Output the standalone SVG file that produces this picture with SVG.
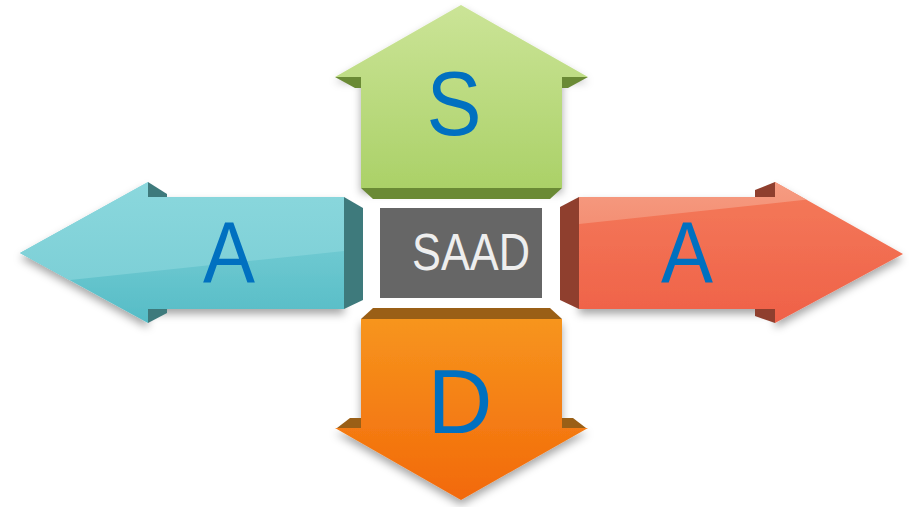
<svg xmlns="http://www.w3.org/2000/svg" width="909" height="507" viewBox="0 0 909 507">
  <defs>
    <linearGradient id="gGreen" x1="0" y1="0" x2="0" y2="1">
      <stop offset="0" stop-color="#cbe497"/>
      <stop offset="1" stop-color="#abd168"/>
    </linearGradient>
    <linearGradient id="gOrange" x1="0" y1="0" x2="0" y2="1">
      <stop offset="0" stop-color="#f7951e"/>
      <stop offset="1" stop-color="#f2690a"/>
    </linearGradient>
    <linearGradient id="gTeal" x1="0" y1="0" x2="0" y2="1">
      <stop offset="0" stop-color="#86d5db"/>
      <stop offset="1" stop-color="#55bcc6"/>
    </linearGradient>
    <linearGradient id="gTealHi" x1="0" y1="0" x2="0" y2="1">
      <stop offset="0" stop-color="#8fdadf"/>
      <stop offset="1" stop-color="#7ccfd6"/>
    </linearGradient>
    <linearGradient id="gRed" x1="0" y1="0" x2="0" y2="1">
      <stop offset="0" stop-color="#f47a5a"/>
      <stop offset="1" stop-color="#ef6148"/>
    </linearGradient>
    <linearGradient id="gRedHi" x1="0" y1="0" x2="0" y2="1">
      <stop offset="0" stop-color="#f7a68c"/>
      <stop offset="1" stop-color="#f48f74"/>
    </linearGradient>
    <filter id="shadow" x="-20%" y="-20%" width="140%" height="150%">
      <feDropShadow dx="0" dy="5" stdDeviation="4" flood-color="#000" flood-opacity="0.35"/>
    </filter>
    <clipPath id="clipTeal">
      <polygon points="20,253 148,182 148,197 344,197 344,309 148,309 148,323"/>
    </clipPath>
    <clipPath id="clipRed">
      <polygon points="579,197 775,197 775,182 903,254 775,323 775,309 579,309"/>
    </clipPath>
  </defs>
  <style>
    .lbl { font-family: "Liberation Sans", Arial, sans-serif; fill: #0070c0; text-anchor: middle; }
    .ctr { font-family: "Liberation Sans", Arial, sans-serif; fill: #eeeeee; }
  </style>

  <g id="node-S">
    <polygon points="461,5 588,77 562,77 562,188 361,188 361,77 335,77" fill="url(#gGreen)" filter="url(#shadow)"/>
    <polygon points="335,77 361,77 361,88 355,88" fill="#6a8a35"/>
    <polygon points="588,77 562,77 562,88 568,88" fill="#6a8a35"/>
    <polygon points="361,188 562,188 550,199 373,199" fill="#6a8a35"/>
    <text class="lbl" x="454" y="135" font-size="90" textLength="55" lengthAdjust="spacingAndGlyphs">S</text>
  </g>

  <g id="node-A-left">
    <polygon points="20,253 148,182 148,197 344,197 344,309 148,309 148,323" fill="url(#gTeal)" filter="url(#shadow)"/>
    <polygon points="0,150 360,150 360,251 344,251 70,280 0,288" fill="url(#gTealHi)" clip-path="url(#clipTeal)"/>
    <polygon points="148,182 167,194 167,197 148,197" fill="#3e7a7c"/>
    <polygon points="148,309 167,309 167,313 148,323" fill="#3e7a7c"/>
    <polygon points="344,197 363,208 363,300 344,309" fill="#3e7a7c"/>
    <text class="lbl" x="229" y="283" font-size="88" textLength="52" lengthAdjust="spacingAndGlyphs">A</text>
  </g>

  <g id="node-A-right">
    <polygon points="579,197 775,197 775,182 903,254 775,323 775,309 579,309" fill="url(#gRed)" filter="url(#shadow)"/>
    <polygon points="570,150 909,150 909,196 803,200 579,224 570,225" fill="url(#gRedHi)" clip-path="url(#clipRed)"/>
    <polygon points="775,182 755,190 755,197 775,197" fill="#8f3f2e"/>
    <polygon points="775,309 755,309 755,316 775,323" fill="#8f3f2e"/>
    <polygon points="579,197 560,207 560,300 579,309" fill="#8f3f2e"/>
    <text class="lbl" x="687" y="283" font-size="88" textLength="52" lengthAdjust="spacingAndGlyphs">A</text>
  </g>

  <g id="node-D">
    <polygon points="361,319 562,319 562,428 588,428 461,500 335,428 361,428" fill="url(#gOrange)" filter="url(#shadow)"/>
    <polygon points="361,319 373,308 550,308 562,319" fill="#9a5f16"/>
    <polygon points="337,428 350,418 361,418 361,428" fill="#9a5f16"/>
    <polygon points="586,428 573,418 562,418 562,428" fill="#9a5f16"/>
    <text class="lbl" x="460" y="433" font-size="90">D</text>
  </g>

  <g id="node-SAAD">
    <rect x="380" y="208" width="162" height="90" fill="#666666"/>
    <text class="ctr" x="412" y="270" font-size="52" textLength="118" lengthAdjust="spacingAndGlyphs">SAAD</text>
  </g>

  <g id="connectors"/>
</svg>
